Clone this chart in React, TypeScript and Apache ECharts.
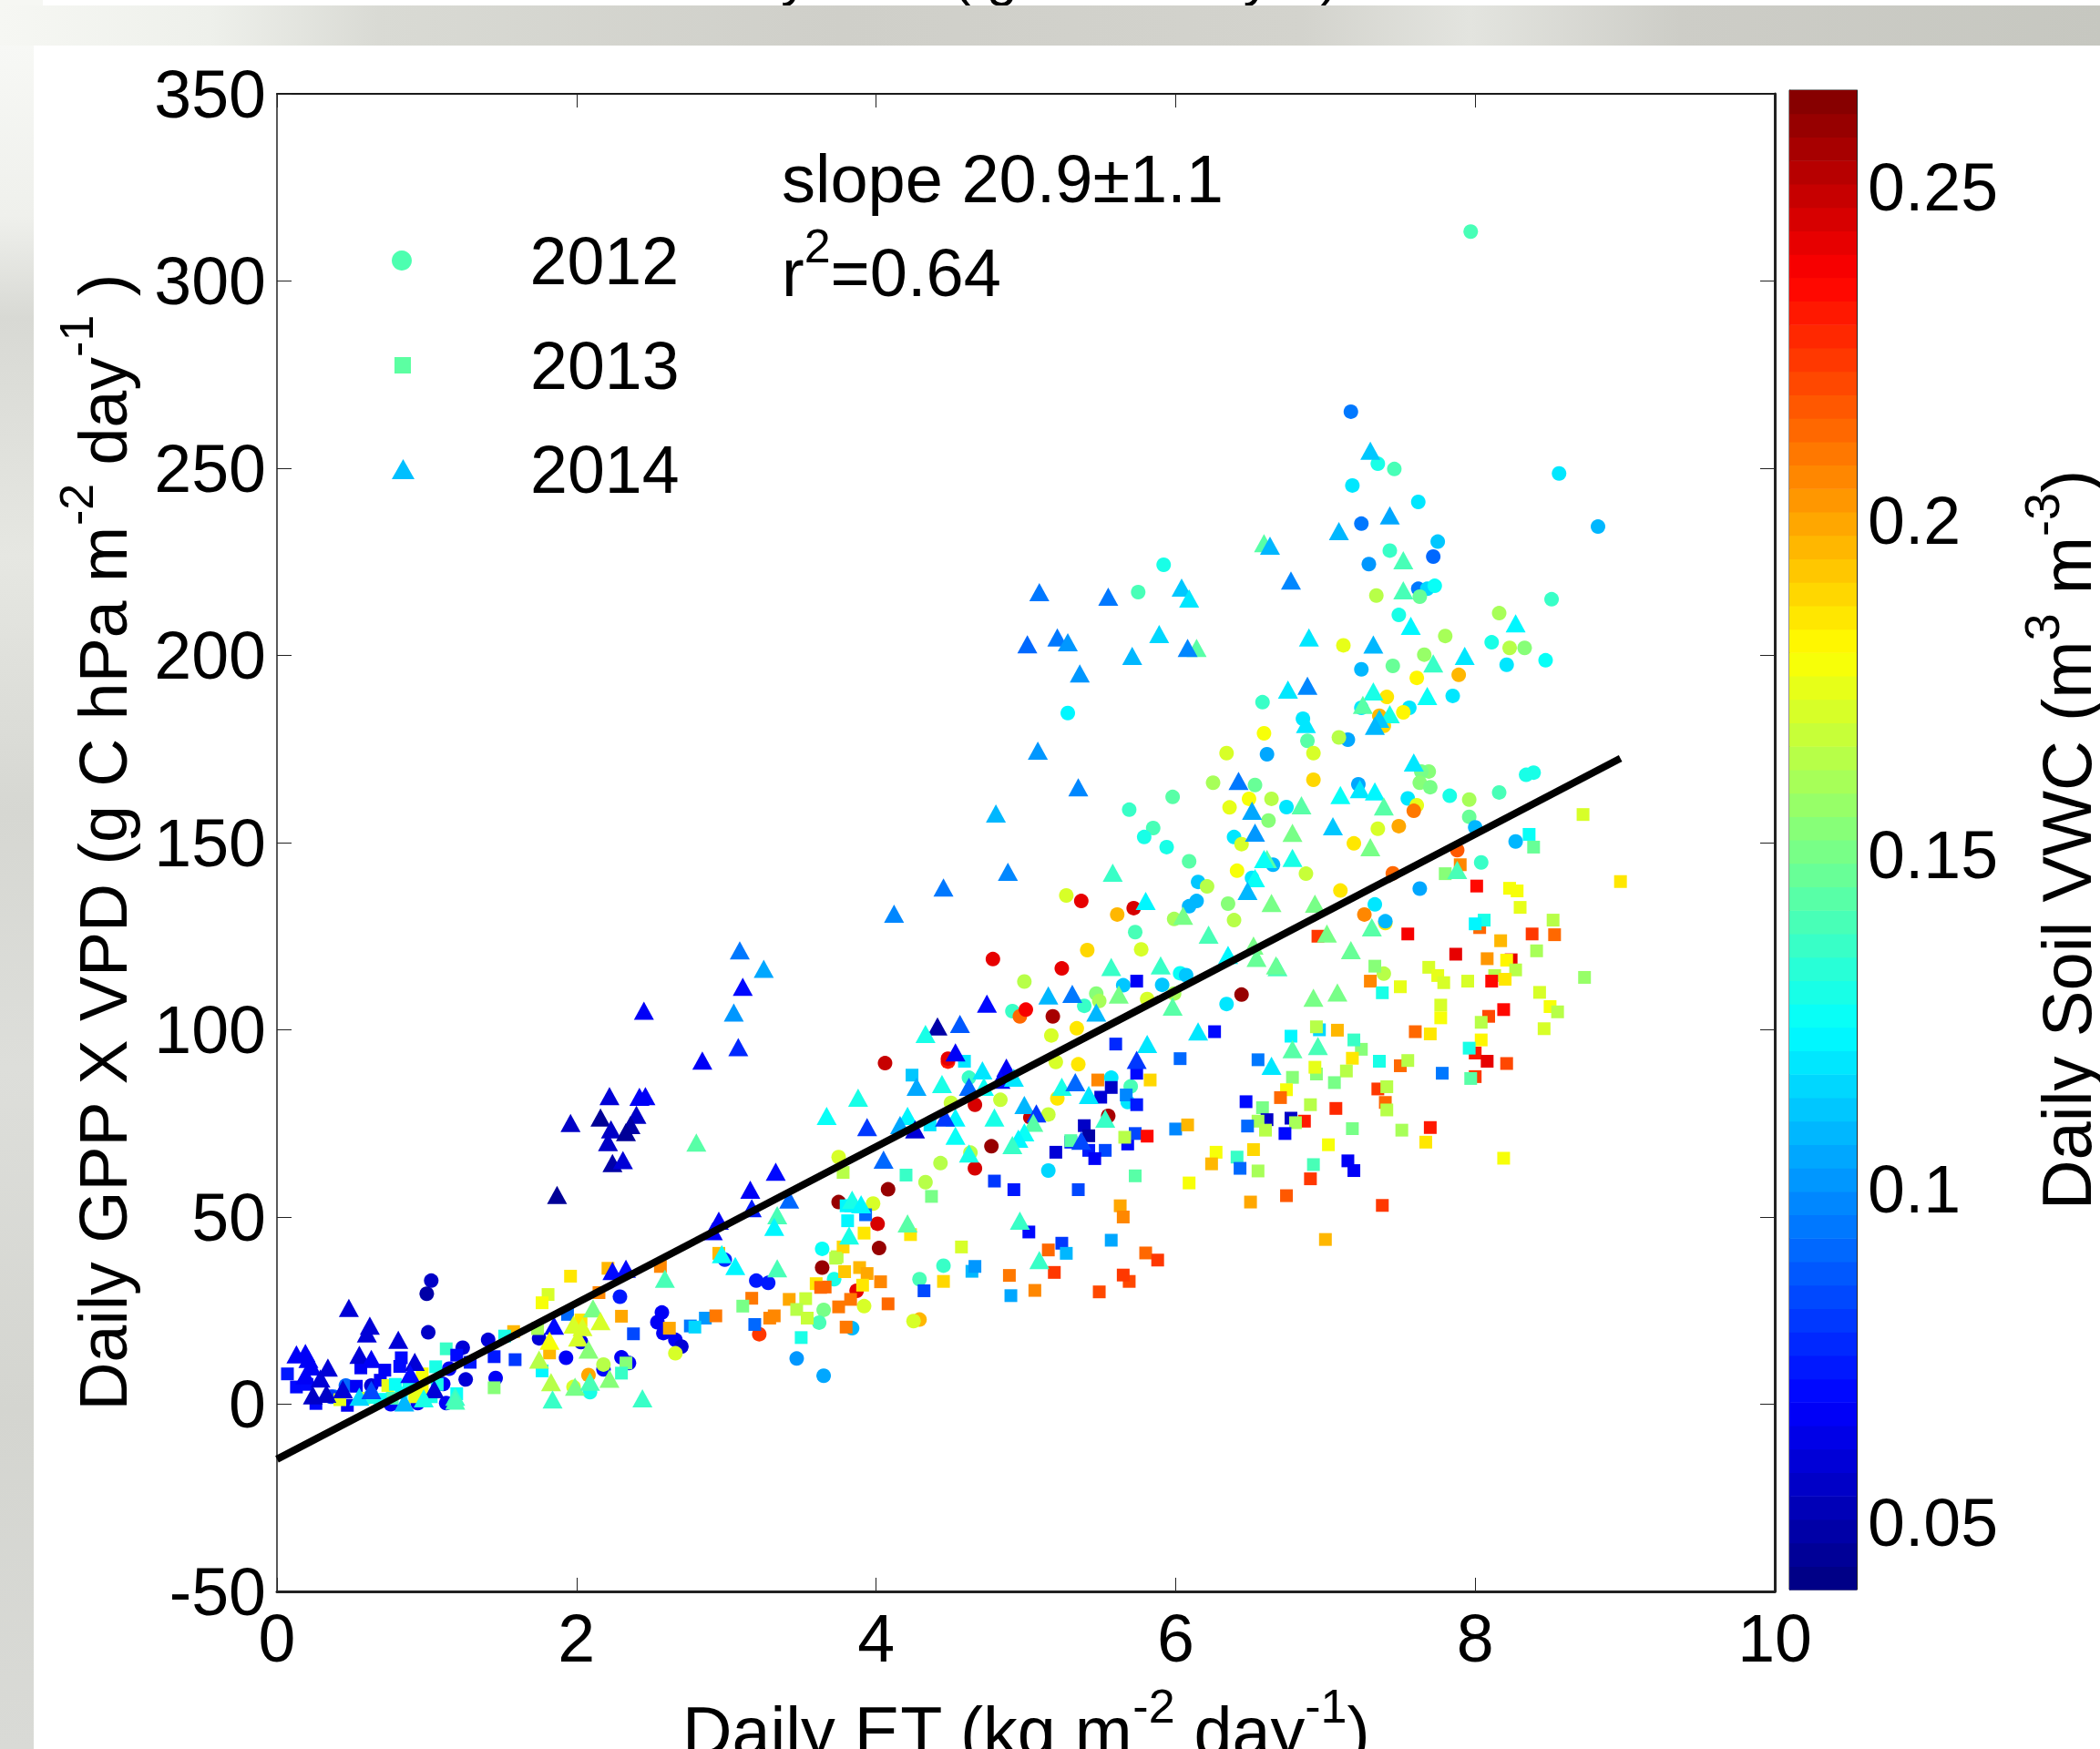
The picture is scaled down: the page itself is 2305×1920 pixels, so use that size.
import React, { useEffect, useRef } from "react";
import * as echarts from "echarts";

const FONT = "Liberation Sans";
const xTicks = { min: 0, max: 10, interval: 2 };
const yTicks = { min: -50, max: 350, interval: 50 };
const vwcMin = 0.04;
const vwcMax = 0.2645;
const vwcTicks = [0.05, 0.1, 0.15, 0.2, 0.25];
const vwcLevels = 64;
const fitLine = [[0, -14.7], [8.97, 172.5]];

// [daily ET, GPP x VPD, soil VWC]
const points2012 = [
[7.97,313.2,.14],[7.17,265.1,.095],[7.35,251.2,.13],[7.46,249.8,.14],[8.56,248.6,.118],[7.18,245.4,.118],[7.62,241,.118],[7.24,235.2,.095],[8.82,234.4,.11],[7.75,230.4,.112],[7.43,228,.135],[7.72,226.4,.092],[7.29,224.4,.1],[5.92,224.2,.13],[5.75,216.9,.14],[7.62,217.8,.095],[7.68,217.8,.115],[7.73,218.6,.125],[7.34,216,.165],[7.63,215.7,.148],[8.51,215,.138],[7.49,210.8,.13],[8.16,211.3,.162],[7.8,205.2,.16],[8.11,203.5,.13],[8.23,202,.165],[8.33,202,.155],[7.12,202.7,.175],[7.66,200.2,.158],[7.45,197.2,.148],[8.21,197.5,.118],[8.47,198.7,.125],[7.24,196.3,.108],[7.89,194.8,.195],[7.61,194,.182],[7.41,188.9,.185],[7.85,189.2,.118],[6.58,187.5,.135],[7.56,186,.118],[7.52,184.8,.182],[7.24,186,.118],[7.36,183.9,.195],[5.28,184.6,.122],[7.39,181.2,.19],[6.85,183.1,.118],[6.59,179.2,.18],[6.88,177.2,.143],[7.15,177.5,.105],[7.09,178.1,.165],[6.34,173.9,.172],[6.92,173.9,.172],[6.61,173.6,.105],
[7.69,169,.155],[7.64,169,.15],[7.63,166,.155],[7.7,164.8,.152],[8.39,168.7,.13],[8.34,168.1,.13],[6.25,166,.16],[6.53,165.4,.148],[6.92,166.8,.19],[7.22,165.6,.105],[7.83,162.5,.13],[8.16,163.4,.14],[7.96,161.5,.16],[5.98,162.2,.145],[6.49,161.7,.178],[6.64,161.7,.165],[7.55,161.8,.118],[5.69,158.8,.135],[6.36,159.4,.175],[6.74,159.5,.12],[7.61,160,.175],[7.59,158.5,.21],[6.62,155.9,.155],[7.96,156.9,.148],[5.85,153.9,.14],[5.79,151.5,.13],[6.39,151.5,.118],[6.44,149.6,.172],[5.94,148.8,.13],[7.35,153.7,.17],[7.49,154.4,.2],[7.19,149.8,.185],[8,154.1,.11],[8.27,150.3,.11],[6.09,145,.145],[7.88,148,.218],[8.04,144.7,.135],[6.41,142.5,.178],[6.65,144.1,.11],[6.51,140.6,.118],[6.87,141.7,.168],[6.15,139.5,.112],[6.21,138.3,.165],[7.1,137.2,.185],[7.45,141.8,.215],[7.63,137.7,.105],[5.27,135.9,.17],[5.37,134.4,.24],[6.14,134.4,.11],[6.09,133,.11],[5.72,132.5,.245],[6.35,133.7,.155],[5.61,130.8,.195],[5.99,129.6,.16],[6.39,129.3,.165],[7.33,133.5,.118],[7.26,130.8,.205],[7.4,128.5,.185],[7.4,129,.108],[7.39,115,.165],
[5.73,126.1,.14],[5.41,121.3,.19],[5.77,121.5,.172],[4.78,118.9,.24],[5.24,116.4,.24],[4.99,112.9,.165],[5.65,111.9,.112],[5.91,112,.112],[6.03,115.1,.125],[6.07,114.6,.112],[5.47,109.7,.155],[5.49,107.7,.16],[5.39,106.4,.135],[5.81,108.2,.172],[5.99,109.7,.16],[4.91,105,.135],[4.96,103.6,.215],[5,105.4,.238],[5.18,103.6,.255],[6.44,109.4,.258],[6.34,106.9,.118],[5.34,100.4,.185],[5.17,98.5,.172],[5.2,91.4,.172],[5.35,90.8,.185],[4.48,91.5,.23],[4.48,92.3,.24],[4.62,87.2,.135],[4.66,80,.245],[4.83,81.3,.168],[4.5,80.5,.168],[5.21,81.7,.185],[5.57,87.2,.12],[5.7,84.9,.14],[5.68,80.7,.118],[5.15,77.4,.168],[5.03,76.6,.25],[5.55,77,.255],[4.06,91.1,.25],[4.77,68.9,.26],[4.66,63,.245],[3.75,66,.172],[4.43,64.4,.165],[4.63,67.2,.165],[5.15,62.4,.115],[4.08,57.4,.26],[4.33,59.3,.165],[3.98,53.6,.172],[3.75,54,.26],[4.01,48.2,.245],[4.02,41.7,.258],[4.45,37,.135],[4.29,33.4,.14],[3.64,41.5,.125],[3.64,36.5,.26],[3.72,33.4,.13],[3.87,30.3,.24],[3.65,25.2,.15],[3.92,26.2,.172],[4.29,22.6,.195],[4.25,22.2,.17],
[1.03,33,.055],[1,29.5,.05],[1.01,19.2,.055],[1.24,15.1,.06],[1.41,17.2,.06],[1.75,17.6,.06],[2.29,28.7,.075],[2.03,16.6,.062],[1.93,12.4,.065],[2.57,24.5,.068],[2.54,21.9,.068],[2.58,19,.068],[2.66,17.2,.065],[2.7,15.4,.06],[2.66,13.6,.17],[1.15,9.5,.068],[1.26,6.6,.058],[1.11,5.4,.065],[1.46,7,.068],[2.3,12.5,.068],[2.35,11,.068],[2.18,9.3,.07],[2.18,10.6,.165],[2.08,7.8,.2],[1.98,4.6,.17],[2.09,3.2,.128],[3.2,33,.075],[3.28,32.4,.075],[2.99,38.6,.078],[3.62,21.8,.14],[3.22,18.7,.225],[3.47,12.2,.1],[3.65,7.6,.105],[3.84,20.3,.11],[1.13,.3,.068],[.94,.3,.068],[.76,0,.068],[.38,2,.09],[.46,5,.09],[.63,5,.06],[.36,2,.08],
];

const points2013 = [
[8.72,157.5,.172],[8.36,152.2,.125],[8.39,148.8,.148],[8.97,139.6,.185],[7.9,144.1,.205],[7.8,141.7,.155],[8.01,138.4,.235],[8.23,137.8,.178],[8.28,137.1,.178],[8.3,132.7,.175],[8.03,127.3,.215],[8.06,129.3,.13],[8,128.3,.122],[8.52,129.3,.165],[8.38,125.6,.225],[8.53,125.4,.215],[8.41,121.1,.16],[8.17,123.8,.195],[8.08,119,.202],[7.87,120.2,.24],[8.24,118.7,.24],[8.21,118.6,.182],[8.27,116,.165],[8.13,114.5,.165],[7.69,116.7,.172],[7.75,114.5,.175],[7.33,117,.155],[7.55,125.6,.238],[6.95,125,.225],[8.73,114,.158],[8.11,113,.235],[7.95,113,.172],[8.2,113.5,.185],[7.79,112.6,.172],[7.3,113,.205],[7.5,111.5,.175],
[7.38,109.9,.128],[8.43,110,.172],[8.5,106.2,.178],[8.55,104.8,.165],[7.77,106.6,.172],[7.77,103.2,.178],[7.6,99.5,.215],[7.7,98.9,.185],[8.19,105.4,.235],[8.09,103.6,.22],[8.04,102,.165],[8.46,100.3,.172],[8.04,97.3,.182],[8,93.8,.23],[7.96,95.1,.13],[8.08,91.6,.24],[8.21,91,.22],[7.78,88.4,.095],[8,87.5,.225],[7.97,87,.145],[7.5,90.4,.215],[7.55,91.8,.165],[7.36,91.6,.13],[7.24,94.8,.155],[7.19,97.3,.135],[7.18,92.4,.185],[7.08,99.9,.195],[6.96,100,.115],[6.94,100.8,.165],[6.77,98.3,.122],[7.35,84.2,.225],[7.41,84.8,.165],[7.4,80.6,.215],[7.41,78.6,.165],[7.7,73.9,.23],[7.51,73.2,.16],[7.67,70,.185],[8.19,65.7,.178],[7.18,73.6,.15],[7.07,79,.228],[6.9,80,.165],[7.14,89,.165],[7.06,85.9,.15],[6.94,88.2,.155],[6.93,90,.175],[6.78,87.3,.155],[6.74,84,.178],[6.7,81.9,.215],[6.58,79.2,.152],[6.47,80.8,.07],[6.61,76,.055],[6.55,75.6,.16],[6.6,73.2,.165],[6.48,74.3,.09],[6.77,76.4,.055],[6.86,75.6,.23],[6.8,75.2,.16],[6.73,72.3,.07],[7.02,69.3,.178],[7.15,65,.065],[7.19,62.4,.065],[6.92,64,.14],[6.9,60.2,.225],[6.74,55.7,.218],[6.5,54,.198],[7.38,53.1,.225],[7,44,.195],
[6,73.5,.098],[6.08,74.6,.195],[6.27,67.3,.18],[6.52,68,.19],[6.41,66,.135],[6.24,64.2,.195],[6.55,62.3,.16],[6.43,63,.09],[6.09,59.1,.18],[5.73,61,.145],[5.74,113,.068],[6.26,99.5,.07],[5.6,96.2,.078],[6.03,92.3,.09],[6.55,92,.095],[4.59,91.6,.118],[4.24,87.9,.113],[4.36,74.6,.12],[5.74,88.4,.07],[5.83,86.6,.19],[5.48,86.6,.205],[5.57,84.6,.055],[5.5,82,.058],[5.67,82.6,.098],[5.74,80,.075],[5.39,74.4,.055],[5.42,71.7,.05],[5.3,70,.075],[5.3,70.4,.145],[5.2,67.3,.058],[5.42,67.8,.075],[5.53,67.8,.085],[5.46,65.6,.065],[5.68,69.5,.07],[5.73,72.3,.085],[5.66,71.3,.165],[5.81,71.6,.235],[3.78,61.9,.165],[4.2,61.2,.135],[4.79,59.6,.08],[4.92,57.3,.072],[5.35,57.3,.085],[4.37,55.5,.15],[5.63,53,.2],[5.65,50,.205],[3.93,50.6,.09],[3.8,53,.122],[3.83,53,.122],[3.81,49,.122],[3.92,45.7,.185],[4.23,45.3,.185],[5.02,46,.07],[5.24,43,.08],[5.57,43.8,.105],[5.27,40.3,.11],[5.15,41.2,.212],[4.57,42,.172],[3.74,39.4,.165],[3.78,42,.19],[5.8,40.4,.212],[5.88,38.5,.225],[5.19,35.2,.225],[4.64,35.5,.11],[4.66,36.8,.1],[4.89,34.4,.21],[4.45,32.8,.19],[5.69,32.8,.22],[5.65,34.5,.225],[4.32,30.3,.085],[5.06,30.4,.205],[4.9,29,.105],[5.49,30,.222],[3.79,35.4,.192],[3.89,36.5,.195],[3.94,34.9,.198],[4.03,32.7,.205],[3.91,31.8,.185],[3.83,28,.21],[3.75,26,.21],[3.66,31.3,.215],[4.08,26.8,.215],
[2.95,40.3,.195],[2.56,36.8,.205],[2.21,36.3,.195],[1.96,34.2,.185],[2.15,29.8,.205],[1.81,29.3,.172],[1.77,27.1,.178],[1.94,24,.09],[2.03,22.5,.185],[2.3,23.5,.198],[1.58,19.4,.195],[1.52,18.2,.13],[1.74,20.2,.16],[2.38,18.8,.085],[2.62,20.3,.198],[2.76,20.9,.095],[2.86,23,.1],[2.79,20.6,.115],[2.93,23.6,.21],[1.82,13.7,.195],[1.77,8.9,.122],[2.33,11,.155],[2.3,8.3,.135],[1.45,4.4,.155],[1.13,14.8,.135],[1.2,13.1,.07],[1.29,11.2,.075],[1.45,12.7,.075],[1.59,11.9,.082],[1.06,10,.13],[3.17,28.3,.21],[3.11,26.2,.15],[3.42,28,.198],[3.53,28.2,.168],[3.47,25.3,.165],[3.54,23,.168],[3.29,23,.205],[3.32,23.6,.208],[3.19,21.3,.09],[3.5,17.8,.13],[3.6,32.2,.185],[3.63,31.2,.215],[3.73,39,.165],[3.8,20.6,.21],
[.07,8.1,.075],[.13,4.6,.07],[.26,.2,.07],[.2,5.3,.07],[.47,-.3,.065],[.53,4.8,.065],[.56,9.7,.065],[.72,9.1,.065],[.69,6.4,.065],[.83,12.4,.07],[.82,10.1,.07],[.74,5,.175],[.42,1.2,.175],[.58,1.6,.17],[.79,5.3,.125],[.88,5,.13],[.83,3,.125],[.77,1.6,.14],[1.03,2,.13],[.97,3.6,.18],[.97,8.1,.18],[1.07,5.3,.13],[1.2,2.8,.125],[.92,2,.175],[.69,1.3,.125],[.63,1.8,.13],
];

const points2014 = [
[7.3,254.7,.113],[7.43,237.4,.105],[7.09,233.2,.108],[6.59,230,.145],[6.63,229.3,.11],[6.77,220,.098],[7.52,225.4,.14],[7.52,217.4,.14],[5.09,216.9,.095],[5.55,215.7,.095],[6.04,218.1,.112],[6.09,215.2,.118],[7.57,207.9,.122],[8.27,208.6,.122],[5.89,205.7,.115],[5.01,203,.09],[5.21,204.8,.095],[5.28,203.5,.1],[6.89,204.8,.12],[7.32,202.9,.11],[5.71,199.9,.108],[6.14,202,.145],[6.08,202,.098],[5.36,195.2,.102],[7.93,199.9,.118],[7.72,197.9,.135],[6.75,190.9,.12],[6.88,191.9,.097],[7.32,190.4,.128],[7.68,189.2,.125],[7.25,186.8,.145],[7.43,184.3,.13],[7.36,183.1,.113],[7.33,181.2,.11],[6.87,181.7,.12],[5.08,174.6,.103],[5.35,164.8,.097],[7.59,171.4,.118],[6.42,166.5,.095],[4.8,157.8,.108],[7.23,164.3,.118],[7.33,163.7,.122],[7.1,162.7,.125],[7.39,159.7,.145],[6.84,160,.145],[6.51,158.5,.105],[6.53,152.7,.1],[7.05,154.4,.113],[6.78,152.6,.15],[7.3,148.8,.15],[4.88,142.2,.098],[4.45,138,.095],[5.58,142,.135],[6.61,145.6,.145],[6.59,145.6,.125],[6.78,145.9,.128],[6.53,140.5,.125],[7.88,142.7,.14],[6.48,137.1,.11],[6.64,133.9,.15],[6.93,133.7,.15],[5.8,134.4,.122],[6.05,130.5,.15],
[7.01,125.7,.15],[7.31,127.4,.145],[7.17,121.3,.148],[6.68,116.7,.14],[4.12,131,.098],[6.22,125.4,.14],[6.52,122.5,.15],[6.35,120,.122],[6.54,119.2,.148],[6.67,117.2,.148],[5.57,116.8,.135],[5.9,117.2,.135],[4.74,107,.07],[5.15,109.2,.11],[5.31,109.6,.095],[5.62,109.4,.15],[5.98,106.2,.145],[5.47,104.6,.11],[6.15,99.6,.12],[6.92,108.6,.15],[7.08,110,.15],[4.41,100.9,.048],[4.56,101.6,.088],[4.33,98.9,.128],[4.53,94,.065],[5.81,96.2,.118],[6.78,94.8,.145],[6.95,95.7,.14],[5.74,92,.08],[6.64,90.4,.118],[3.88,81.9,.13],[3.67,77,.125],[4.27,84.8,.105],[4.44,85.5,.13],[4.71,89.2,.12],[4.87,89.9,.065],[4.83,86.7,.07],[4.92,87.2,.12],[4.62,84.8,.09],[4.72,84.8,.125],[5.24,84.8,.13],[5.33,86,.09],[5.42,82.6,.118],[4.99,79.9,.11],[5.07,77.7,.08],[5.05,75.2,.145],[4.53,76.6,.122],[4.79,76.6,.128],[4.21,77,.122],[4.16,74.6,.105],[3.94,74,.08],[4.26,73.4,.06],[4.46,76.6,.08],[4.53,71.7,.125],[4.99,72.6,.125],[4.95,70.9,.122],[4.91,69.2,.135],[5.53,76.3,.135],[5.37,70.4,.085],[4.05,65.3,.092],[4.62,67,.128],[4.96,49,.135],[5.09,38.5,.135],[4.21,48.3,.145],[3.84,54.6,.128],[3.9,53.4,.122],[3.82,45.1,.13],
[3.09,121.2,.095],[3.25,116.3,.105],[3.11,111.5,.07],[3.05,104.6,.103],[2.45,105.1,.068],[3.08,95.4,.078],[2.84,91.8,.068],[2.22,82.3,.06],[2.42,82.1,.068],[2.46,82.3,.065],[1.96,75.1,.055],[2.16,76.6,.045],[2.4,77.3,.055],[2.23,73.4,.055],[2.36,74.6,.05],[2.33,72.7,.045],[2.21,70,.055],[2.24,64.4,.05],[2.31,65.2,.06],[2.8,69.9,.145],[3.33,62.1,.07],[1.87,55.9,.045],[3.16,57.3,.067],[3.17,52.4,.075],[3.42,54.7,.09],[2.95,49,.065],[2.91,46.2,.068],[3.34,50.5,.14],[3.32,47.4,.122],[2.97,40.1,.125],[3.06,36.9,.122],[3.34,36.3,.14],[2.59,33.5,.14],[2.24,35.6,.07],[2.33,36.2,.07],[2.11,25.6,.15],[2.16,22.2,.17],[1.85,21,.07],[1.98,21.3,.17],[2.04,20.6,.17],[2.01,17.8,.17],[1.82,17,.178],[1.75,11.9,.165],[2.08,14.6,.155],[1.83,5.9,.165],[1.99,4.7,.15],[2.09,6,.14],[2.22,6.8,.155],[1.84,1.3,.135],[2.44,1.6,.135],
[.48,25.7,.06],[.62,21,.06],[.6,18.9,.06],[.81,17.2,.06],[.13,13.3,.065],[.19,13.7,.065],[.21,12.1,.068],[.23,10.1,.068],[.55,13.2,.06],[.63,12.1,.065],[.34,9.8,.06],[.92,11.3,.06],[.19,7.7,.065],[.29,6.9,.06],[.89,8.1,.07],[.24,2.4,.055],[.33,2.8,.055],[.44,4,.06],[.55,2,.115],[.63,3.8,.085],[.85,.5,.11],[1.05,4,.058],[.98,1.6,.13],[1.19,2,.135],[1.19,1,.14],
];

const clamp = (v: number) => Math.max(0, Math.min(1, v));
const jet = (t: number) => {
  const c = (k: number) => Math.round(255 * clamp(1.5 - Math.abs(4 * t - k)));
  return `rgb(${c(3)},${c(2)},${c(1)})`;
};
const colorOf = (v: number) => {
  const i = Math.max(0, Math.min(vwcLevels - 1, Math.floor(((v - vwcMin) / (vwcMax - vwcMin)) * vwcLevels)));
  return jet((i + 0.5) / vwcLevels);
};
const toItems = (rows: number[][]) =>
  rows.map((r) => ({ value: r, itemStyle: { color: colorOf(r[2]) } }));

const colorbarRows = Array.from({ length: vwcLevels }, (_, i) => {
  const step = (vwcMax - vwcMin) / vwcLevels;
  return [vwcMin + i * step, vwcMin + (i + 1) * step, i];
});

const makeRich = (size: number, sup: number) => ({
  b: { fontFamily: FONT, fontSize: size, color: "#000", lineHeight: 92, verticalAlign: "bottom" },
  s: { fontFamily: FONT, fontSize: sup, color: "#000", lineHeight: 92, verticalAlign: "top" },
});
const axisText = { fontFamily: FONT, fontSize: 73.5, color: "#000" };
const lineDark = { color: "#1a1a1a", width: 2 };

export default function App() {
  const ref = useRef<HTMLDivElement>(null);
  useEffect(() => {
    document.body.style.margin = "0";
    document.body.style.background = "#fff";
    const chart = echarts.init(ref.current!, undefined, { renderer: "svg" });
    const legendBase = {
      orient: "vertical",
      selectedMode: false,
      textStyle: { ...axisText, lineHeight: 80 },
    };
    chart.setOption({
      animation: false,
      backgroundColor: "#ffffff",
      legend: [
        { ...legendBase, left: 425, top: 241, itemWidth: 23, itemHeight: 22, data: [{ name: "2012", icon: "circle" }],
          textStyle: { ...legendBase.textStyle, padding: [0, 0, 0, 124] } },
        { ...legendBase, left: 428, top: 356, itemWidth: 18, itemHeight: 18, data: [{ name: "2013", icon: "rect" }],
          textStyle: { ...legendBase.textStyle, padding: [0, 0, 0, 126] } },
        { ...legendBase, left: 425, top: 470, itemWidth: 25, itemHeight: 22, data: [{ name: "2014", icon: "triangle" }],
          textStyle: { ...legendBase.textStyle, padding: [0, 0, 0, 122] } },
      ],
      grid: [
        { left: 304, top: 103, width: 1644, height: 1644, containLabel: false, outerBoundsMode: "none" },
        { left: 1964, top: 99, width: 74, height: 1646, containLabel: false, outerBoundsMode: "none", show: true, borderColor: "#222", borderWidth: 1, backgroundColor: "transparent" },
      ],
      xAxis: [
        {
          type: "value", gridIndex: 0, position: "bottom", ...xTicks,
          name: "{b|Daily ET (kg m}{s|-2}{b| day}{s|-1}{b|)}",
          nameLocation: "middle", nameGap: 100,
          nameTextStyle: { rich: makeRich(75.5, 52) },
          splitLine: { show: false },
          axisLine: { onZero: false, lineStyle: { color: "#222", width: 3 } },
          axisTick: { inside: true, length: 15, lineStyle: { color: "#222", width: 1 } },
          axisLabel: { ...axisText, margin: 14, hideOverlap: false },
        },
        {
          type: "value", gridIndex: 0, position: "top", ...xTicks,
          splitLine: { show: false },
          axisLine: { onZero: false, lineStyle: lineDark },
          axisTick: { inside: true, length: 15, lineStyle: { color: "#222", width: 1 } },
          axisLabel: { show: false },
        },
        { type: "value", gridIndex: 1, min: 0, max: 1, show: false },
      ],
      yAxis: [
        {
          type: "value", gridIndex: 0, position: "left", ...yTicks,
          name: "{b|Daily GPP X VPD (g C hPa m}{s|-2}{b| day}{s|-1}{b| )}",
          nameLocation: "middle", nameRotate: 90, nameGap: 154,
          nameTextStyle: { rich: makeRich(73.5, 52) },
          splitLine: { show: false },
          axisLine: { onZero: false, lineStyle: { color: "#222", width: 1.5 } },
          axisTick: { inside: true, length: 16, lineStyle: { color: "#222", width: 1 } },
          axisLabel: { ...axisText, margin: 12, hideOverlap: false },
        },
        {
          type: "value", gridIndex: 0, position: "right", ...yTicks,
          splitLine: { show: false },
          axisLine: { onZero: false, lineStyle: { color: "#222", width: 3 } },
          axisTick: { inside: true, length: 16, lineStyle: { color: "#222", width: 1 } },
          axisLabel: { show: false },
        },
        {
          type: "value", gridIndex: 1, position: "right", min: vwcMin, max: vwcMax,
          name: "{b|Daily Soil VWC (m}{s|3}{b| m}{s|-3}{b|)}",
          nameLocation: "middle", nameRotate: 90, nameGap: 176,
          nameTextStyle: { rich: makeRich(76, 54) },
          splitLine: { show: false },
          axisLine: { show: true, onZero: false, lineStyle: { color: "#222", width: 1 } },
          axisTick: { inside: true, length: 16, customValues: vwcTicks, lineStyle: { color: "#111", width: 1 } },
          axisLabel: { ...axisText, margin: 12, customValues: vwcTicks, hideOverlap: false, formatter: (v: number) => String(v) },
        },
        {
          type: "value", gridIndex: 1, position: "left", min: vwcMin, max: vwcMax,
          splitLine: { show: false },
          axisLine: { show: true, onZero: false, lineStyle: { color: "#222", width: 1 } },
          axisTick: { inside: true, length: 16, customValues: vwcTicks, lineStyle: { color: "#111", width: 1 } },
          axisLabel: { show: false },
        },
      ],
      series: [
        { name: "2012", type: "scatter", xAxisIndex: 0, yAxisIndex: 0, symbol: "circle", symbolSize: 16,
          itemStyle: { color: "#4dffb0", opacity: 1 }, data: toItems(points2012), z: 3 },
        { name: "2013", type: "scatter", xAxisIndex: 0, yAxisIndex: 0, symbol: "rect", symbolSize: 14,
          itemStyle: { color: "#5cffa2", opacity: 1 }, data: toItems(points2013), z: 4 },
        { name: "2014", type: "scatter", xAxisIndex: 0, yAxisIndex: 0, symbol: "triangle", symbolSize: [22, 20],
          itemStyle: { color: "#00bfff", opacity: 1 }, data: toItems(points2014), z: 5 },
        { name: "fit", type: "line", xAxisIndex: 0, yAxisIndex: 0, data: fitLine, showSymbol: false, symbol: "none",
          lineStyle: { color: "#000", width: 8 }, z: 6 },
        {
          name: "colorbar", type: "custom", xAxisIndex: 2, yAxisIndex: 2, data: colorbarRows, z: 2, silent: true,
          encode: { y: [0, 1] },
          renderItem: (_: any, api: any) => {
            const a = api.coord([0, api.value(0)]);
            const b = api.coord([1, api.value(1)]);
            return {
              type: "rect",
              shape: { x: a[0], y: b[1], width: b[0] - a[0], height: a[1] - b[1] + 0.6 },
              style: { fill: jet((api.value(2) + 0.5) / vwcLevels), stroke: "none" },
            };
          },
        },
      ],
      graphic: [
        { type: "text", z: 0, x: 754, y: 4, style: { text: "{b|Daily GPP ( g C m}{s|-2}{b| day}{s|-1}{b| )}",
          rich: makeRich(60, 42), verticalAlign: "bottom", fill: "#000" } },
        { type: "rect", z: 1, shape: { x: 0, y: 6, width: 2305, height: 44 }, style: {
          fill: new echarts.graphic.LinearGradient(0, 0, 1, 0, [
            { offset: 0, color: "#f6f7f3" }, { offset: 0.1, color: "#eef0eb" }, { offset: 0.18, color: "#d9dad4" },
            { offset: 0.4, color: "#cfcfc9" }, { offset: 0.62, color: "#d3d3cd" }, { offset: 0.7, color: "#e3e4df" },
            { offset: 0.8, color: "#cdcdc7" }, { offset: 1, color: "#c6c7c0" },
          ]) } },
        { type: "rect", z: 1, shape: { x: 0, y: 0, width: 47, height: 6 }, style: { fill: "#f6f7f3" } },
        { type: "rect", z: 1, shape: { x: 0, y: 50, width: 37, height: 1870 }, style: {
          fill: new echarts.graphic.LinearGradient(0, 0, 0, 1, [
            { offset: 0, color: "#f7f8f5" }, { offset: 0.1, color: "#eff0ec" }, { offset: 0.16, color: "#d8d9d4" },
            { offset: 0.3, color: "#e6e7e2" }, { offset: 0.45, color: "#d6d7d2" }, { offset: 0.6, color: "#dddeda" },
            { offset: 0.8, color: "#d4d5d0" }, { offset: 1, color: "#d9dad6" },
          ]) } },
        { type: "text", z: 7, x: 858, y: 196, style: { text: "slope 20.9±1.1", fontFamily: FONT, fontSize: 74, fill: "#000", verticalAlign: "middle" } },
        { type: "text", z: 7, x: 858, y: 290, style: { text: "{b|r}{s|2}{b|=0.64}", rich: makeRich(74, 52), verticalAlign: "middle", fill: "#000" } },
      ],
    });
    return () => chart.dispose();
  }, []);
  return <div ref={ref} style={{ width: 2305, height: 1920 }} />;
}
